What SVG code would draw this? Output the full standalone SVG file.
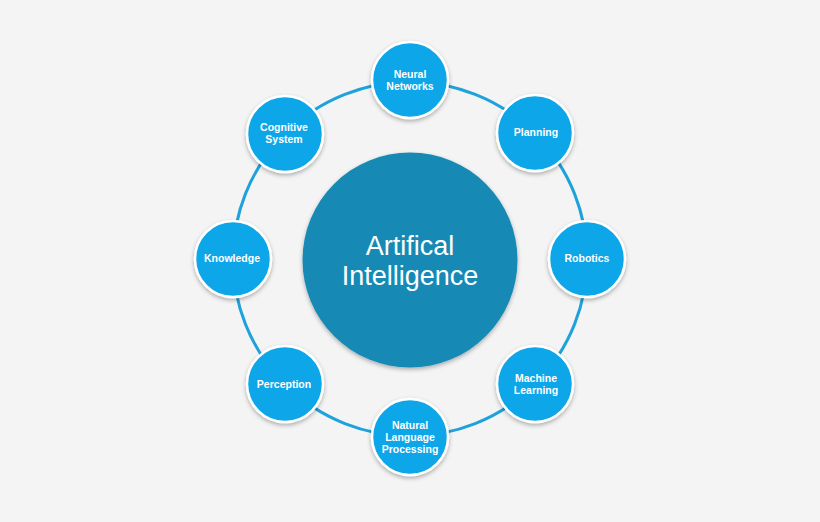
<svg xmlns="http://www.w3.org/2000/svg" width="820" height="522" viewBox="0 0 820 522">
<defs>
<style>
.node{fill:#0aa6e8;stroke:#ffffff;stroke-width:2.5;filter:url(#sh)}
.lbl{fill:#ffffff;font-family:"Liberation Sans",Arial,sans-serif;font-weight:700;font-size:10.5px;text-anchor:middle}
.big{fill:#ffffff;font-family:"Liberation Sans",Arial,sans-serif;font-size:27px;text-anchor:middle}
.ring{fill:none;stroke:#1ea2dc;stroke-width:3}
</style>
<filter id="sh" x="-30%" y="-30%" width="160%" height="160%">
<feDropShadow dx="0" dy="2" stdDeviation="2" flood-color="#000" flood-opacity="0.3"/>
</filter>
</defs>
<rect width="820" height="522" fill="#f4f4f4"/>
<g id="connectors">
<circle class="ring" cx="410" cy="259" r="177"/>
</g>
<g id="center">
<circle cx="410" cy="260" r="107.5" fill="#188ab5" filter="url(#sh)"/>
<text class="big" x="410" y="255">Artifical</text>
<text class="big" x="410" y="285">Intelligence</text>
</g>
<g id="neural-networks">
<circle class="node" cx="410" cy="80" r="38"/>
<text class="lbl" x="410" y="78">Neural</text>
<text class="lbl" x="410" y="90">Networks</text>
</g>
<g id="planning">
<circle class="node" cx="535" cy="133" r="38"/>
<text class="lbl" x="536" y="136">Planning</text>
</g>
<g id="robotics">
<circle class="node" cx="587" cy="259" r="38"/>
<text class="lbl" x="587" y="262">Robotics</text>
</g>
<g id="machine-learning">
<circle class="node" cx="535" cy="384" r="38"/>
<text class="lbl" x="536" y="382">Machine</text>
<text class="lbl" x="536" y="394">Learning</text>
</g>
<g id="nlp">
<circle class="node" cx="410" cy="437" r="38"/>
<text class="lbl" x="410" y="429">Natural</text>
<text class="lbl" x="410" y="441">Language</text>
<text class="lbl" x="410" y="453">Processing</text>
</g>
<g id="perception">
<circle class="node" cx="285" cy="384" r="38"/>
<text class="lbl" x="284" y="388">Perception</text>
</g>
<g id="knowledge">
<circle class="node" cx="233" cy="259" r="38"/>
<text class="lbl" x="232" y="262">Knowledge</text>
</g>
<g id="cognitive-system">
<circle class="node" cx="285" cy="134" r="38"/>
<text class="lbl" x="284" y="131">Cognitive</text>
<text class="lbl" x="284" y="143">System</text>
</g>
</svg>
